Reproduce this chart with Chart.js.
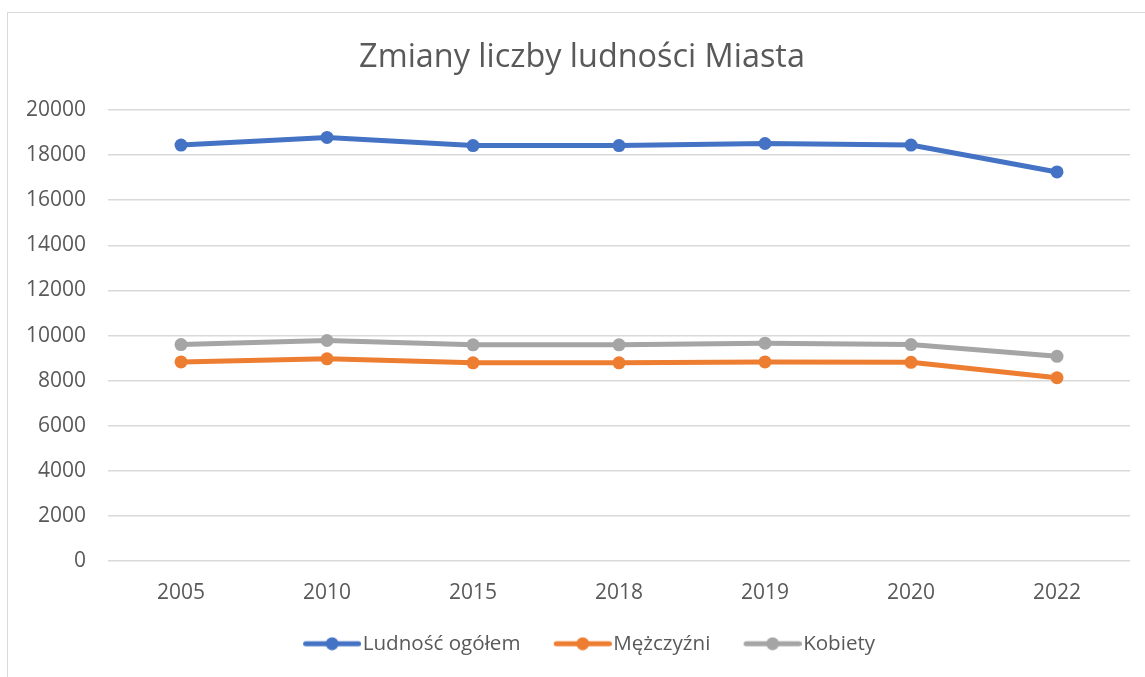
<!DOCTYPE html>
<html>
<head>
<meta charset="utf-8">
<script src="https://cdn.jsdelivr.net/npm/chart.js@4"></script>
<style>
html,body{margin:0;padding:0;background:#fff;}
#wrap{position:absolute;left:0;top:0;width:1145px;height:677px;}
#frame{position:absolute;left:7px;top:12px;width:1150px;height:680px;border:1px solid #d9d9d9;box-sizing:border-box;}
canvas{position:absolute;left:0;top:0;}
</style>
</head>
<body>
<div id="wrap"><div id="frame"></div><canvas id="c" width="1145" height="677"></canvas></div>
<script>
const categories = ['2005','2010','2015','2018','2019','2020','2022'];
const ludnoscOgolem = [18440, 18780, 18420, 18420, 18510, 18440, 17250];
const mezczyzni = [8830, 8970, 8790, 8790, 8830, 8815, 8130];
const kobiety = [9600, 9780, 9590, 9590, 9660, 9600, 9080];
const yTicks = [0,2000,4000,6000,8000,10000,12000,14000,16000,18000,20000];

const FONT = '"Open Sans", sans-serif';
const TXT = '#595959';

// legend icon: line with a dot, drawn on the right part of a wider transparent canvas
function legendIcon(color){
  const cv = document.createElement('canvas');
  cv.width = 91; cv.height = 14;
  const g = cv.getContext('2d');
  g.strokeStyle = color; g.lineWidth = 5; g.lineCap = 'round';
  g.beginPath(); g.moveTo(35.5,7); g.lineTo(88.5,7); g.stroke();
  g.fillStyle = color; g.beginPath(); g.arc(62,7,6.5,0,Math.PI*2); g.fill();
  return cv;
}
const colors = ['#4472C4','#ED7D31','#A5A5A5'];
const icons = colors.map(legendIcon);

function ds(label, data, i){
  return {label, data, borderColor: colors[i], backgroundColor: colors[i],
    borderWidth: 5, pointRadius: 6.5, pointHoverRadius: 6.5, pointBorderWidth: 0,
    pointStyle: 'circle', tension: 0, order: i};
}

const shiftBoxes = {
  id: 'shiftBoxes',
  afterLayout(chart){
    const t = chart.titleBlock, l = chart.legend;
    if (t) { t.left += 15; t.right += 15; }
    if (l) { l.left += 10; l.right += 10; }
  }
};

new Chart(document.getElementById('c'), {
  type: 'line',
  data: {labels: categories, datasets: [
    ds('Ludność ogółem', ludnoscOgolem, 0),
    ds('Mężczyźni', mezczyzni, 1),
    ds('Kobiety', kobiety, 2)
  ]},
  plugins: [shiftBoxes],
  options: {
    responsive: false, animation: false,
    layout: {padding: {left: 4, right: 15, top: 38, bottom: 13}},
    plugins: {
      title: {display: true, text: 'Zmiany liczby ludności Miasta', color: TXT,
        font: {family: FONT, size: 32.4, weight: 'normal'}, padding: {top: 0, bottom: 33}},
      legend: {position: 'bottom', labels: {
        usePointStyle: true, pointStyleWidth: 73.5, padding: 9, color: TXT,
        font: {family: FONT, size: 20.6},
        generateLabels: (chart) => chart.data.datasets.map((d, i) => ({
          text: d.label, pointStyle: icons[i], fillStyle: colors[i], strokeStyle: colors[i],
          lineWidth: 0, hidden: false, datasetIndex: i, fontColor: TXT
        }))
      }},
      tooltip: {enabled: false}
    },
    scales: {
      x: {offset: true, grid: {display: false, drawTicks: false}, border: {display: false},
        ticks: {color: TXT, font: {family: FONT, size: 21}, padding: 19}},
      y: {min: 0, max: 20000, afterBuildTicks: (s) => { s.ticks = yTicks.map(v => ({value: v})); },
        grid: {color: '#d9d9d9', lineWidth: 1.5, drawTicks: false}, border: {display: false},
        ticks: {color: TXT, font: {family: FONT, size: 21}, padding: 22, callback: v => String(v)}}
    }
  }
});
</script>
</body>
</html>
